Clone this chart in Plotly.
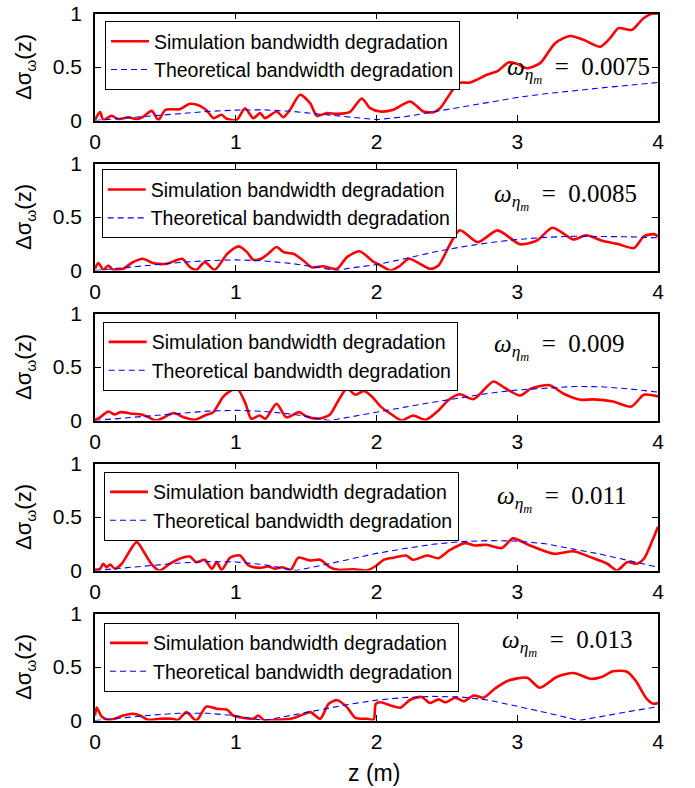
import plotly.graph_objects as go

# propagation distance z (m) sample points and bandwidth degradation for each omega_eta_m case
omega_labels = ["0.0075", "0.0085", "0.009", "0.011", "0.013"]

sim_z_1 = [0, 0.036, 0.059, 0.118, 0.166, 0.237, 0.296, 0.344, 0.403, 0.45, 0.50, 0.60, 0.675, 0.746,
           0.794, 0.841, 0.90, 0.936, 1.007, 1.066, 1.125, 1.173, 1.208, 1.291, 1.338, 1.386, 1.457,
           1.528, 1.576, 1.647, 1.718, 1.812, 1.895, 1.955, 2.026, 2.12, 2.239, 2.333, 2.405, 2.452,
           2.582, 2.665, 2.784, 2.866, 2.937, 2.997, 3.068, 3.163, 3.269, 3.376, 3.471, 3.589, 3.66,
           3.719, 3.814, 3.897, 3.957, 4.0]
sim_v_1 = [0.006, 0.078, 0.006, 0.044, 0.012, 0.031, 0.012, 0.037, 0.09, 0.006, 0.1, 0.106, 0.156, 0.137,
           0.093, 0.022, 0.053, 0.016, 0.006, 0.115, 0.022, 0.069, 0.022, 0.084, 0.031, 0.1, 0.24,
           0.162, 0.044, 0.069, 0.062, 0.081, 0.206, 0.115, 0.084, 0.1, 0.178, 0.084, 0.078, 0.115,
           0.349, 0.355, 0.427, 0.467, 0.542, 0.53, 0.489, 0.536, 0.723, 0.79, 0.754, 0.69, 0.77,
           0.863, 0.847, 0.956, 0.997, 1.0]

sim_z_2 = [0, 0.024, 0.059, 0.095, 0.13, 0.20, 0.27, 0.34, 0.41, 0.51, 0.62, 0.675, 0.72, 0.78, 0.85,
           0.94, 1.02, 1.08, 1.125, 1.18, 1.23, 1.29, 1.34, 1.41, 1.48, 1.54, 1.62, 1.72, 1.79, 1.88,
           1.98, 2.03, 2.10, 2.17, 2.23, 2.38, 2.44, 2.59, 2.72, 2.86, 3.02, 3.14, 3.25, 3.40, 3.49,
           3.61, 3.71, 3.83, 3.90, 3.97, 4.0]
sim_v_2 = [0.015, 0.07, 0.006, 0.047, 0.006, 0.016, 0.078, 0.11, 0.07, 0.063, 0.11, 0.03, 0.006, 0.078,
           0.006, 0.156, 0.225, 0.172, 0.1, 0.11, 0.156, 0.22, 0.172, 0.156, 0.094, 0.03, 0.04, 0.016,
           0.125, 0.18, 0.08, 0.047, 0.0, 0.047, 0.11, 0.016, 0.047, 0.375, 0.265, 0.375, 0.245, 0.28,
           0.4, 0.29, 0.33, 0.275, 0.25, 0.21, 0.32, 0.34, 0.32]

sim_z_3 = [0, 0.036, 0.095, 0.14, 0.18, 0.27, 0.33, 0.38, 0.43, 0.47, 0.56, 0.63, 0.71, 0.78, 0.84,
           0.91, 0.96, 1.01, 1.07, 1.11, 1.17, 1.21, 1.29, 1.36, 1.45, 1.50, 1.58, 1.62, 1.67, 1.73,
           1.79, 1.85, 1.91, 1.97, 2.03, 2.10, 2.18, 2.26, 2.35, 2.44, 2.51, 2.59, 2.69, 2.83, 2.91,
           3.02, 3.10, 3.23, 3.33, 3.45, 3.54, 3.68, 3.81, 3.90, 4.0]
sim_v_3 = [0.006, 0.03, 0.084, 0.056, 0.078, 0.063, 0.056, 0.03, 0.0, 0.016, 0.07, 0.03, 0.006, 0.047,
           0.078, 0.22, 0.275, 0.3, 0.156, 0.016, 0.047, 0.016, 0.156, 0.03, 0.078, 0.04, 0.016, 0.025,
           0.056, 0.19, 0.3, 0.24, 0.275, 0.22, 0.13, 0.063, 0.0, 0.047, 0.006, 0.094, 0.19, 0.245,
           0.2, 0.365, 0.306, 0.234, 0.3, 0.33, 0.25, 0.194, 0.197, 0.178, 0.13, 0.24, 0.225]

sim_z_4 = [0, 0.036, 0.059, 0.083, 0.107, 0.142, 0.19, 0.296, 0.355, 0.40, 0.46, 0.53, 0.62, 0.675,
           0.72, 0.78, 0.83, 0.865, 0.90, 0.96, 1.03, 1.09, 1.17, 1.23, 1.28, 1.33, 1.39, 1.445, 1.53,
           1.60, 1.67, 1.73, 1.84, 1.93, 2.0, 2.05, 2.12, 2.21, 2.26, 2.36, 2.44, 2.52, 2.63, 2.70,
           2.78, 2.89, 2.97, 3.09, 3.26, 3.40, 3.52, 3.64, 3.71, 3.78, 3.85, 3.90, 3.96, 4.0]
sim_v_4 = [0.006, 0.016, 0.063, 0.03, 0.056, 0.016, 0.063, 0.265, 0.156, 0.063, 0.0, 0.063, 0.12, 0.13,
           0.078, 0.1, 0.016, 0.078, 0.006, 0.12, 0.14, 0.047, 0.025, 0.037, 0.016, 0.03, 0.006, 0.12,
           0.094, 0.1, 0.03, 0.006, 0.012, 0.0, 0.047, 0.1, 0.12, 0.14, 0.1, 0.14, 0.115, 0.19, 0.256,
           0.234, 0.24, 0.21, 0.3, 0.234, 0.156, 0.18, 0.125, 0.063, 0.0, 0.078, 0.063, 0.11, 0.28, 0.41]

sim_z_5 = [0, 0.012, 0.047, 0.095, 0.14, 0.20, 0.27, 0.32, 0.38, 0.46, 0.545, 0.59, 0.65, 0.72, 0.79,
           0.865, 0.94, 0.98, 1.03, 1.125, 1.16, 1.20, 1.29, 1.39, 1.46, 1.53, 1.60, 1.66, 1.72, 1.79,
           1.85, 1.93, 1.98, 1.995, 2.03, 2.10, 2.17, 2.24, 2.32, 2.38, 2.44, 2.49, 2.56, 2.62, 2.69,
           2.76, 2.84, 2.93, 3.07, 3.16, 3.28, 3.40, 3.52, 3.60, 3.68, 3.78, 3.84, 3.92, 3.97, 4.0]
sim_v_5 = [0.047, 0.12, 0.037, 0.006, 0.016, 0.047, 0.063, 0.047, 0.006, 0.016, 0.016, 0.006, 0.078,
           0.0, 0.13, 0.11, 0.1, 0.047, 0.03, 0.016, 0.047, 0.006, 0.006, 0.016, 0.047, 0.078, 0.016,
           0.156, 0.19, 0.125, 0.025, 0.016, 0.01, 0.156, 0.17, 0.14, 0.12, 0.194, 0.22, 0.163, 0.197,
           0.17, 0.213, 0.18, 0.234, 0.213, 0.297, 0.37, 0.4, 0.306, 0.406, 0.444, 0.39, 0.406, 0.46,
           0.456, 0.375, 0.203, 0.156, 0.163]

theo_z_1 = [0, 0.2, 0.4, 0.6, 0.8, 1.0, 1.2, 1.4, 1.6, 1.8, 2.0, 2.2, 2.4, 2.6, 2.8, 3.0, 3.2, 3.4,
            3.6, 3.8, 4.0]
theo_v_1 = [0, 0.02, 0.043, 0.065, 0.085, 0.097, 0.1, 0.085, 0.06, 0.035, 0.008, 0.035, 0.08, 0.13,
            0.175, 0.215, 0.25, 0.28, 0.305, 0.33, 0.355]

theo_z_2 = [0, 0.2, 0.4, 0.6, 0.8, 1.0, 1.2, 1.4, 1.6, 1.72, 1.8, 2.0, 2.2, 2.4, 2.6, 2.8, 3.0, 3.2,
            3.4, 3.6, 3.8, 4.0]
theo_v_2 = [0, 0.025, 0.05, 0.075, 0.092, 0.1, 0.09, 0.065, 0.025, 0.0, 0.02, 0.055, 0.11, 0.17, 0.22,
            0.26, 0.29, 0.31, 0.32, 0.32, 0.315, 0.305]

theo_z_3 = [0, 0.2, 0.4, 0.6, 0.8, 1.0, 1.2, 1.4, 1.55, 1.67, 1.8, 2.0, 2.2, 2.4, 2.6, 2.8, 3.0, 3.2,
            3.4, 3.6, 3.8, 4.0]
theo_v_3 = [0, 0.022, 0.047, 0.07, 0.088, 0.095, 0.085, 0.06, 0.03, 0.0, 0.03, 0.08, 0.125, 0.17,
            0.215, 0.255, 0.285, 0.305, 0.318, 0.315, 0.295, 0.265]

theo_z_4 = [0, 0.2, 0.4, 0.6, 0.8, 1.0, 1.2, 1.43, 1.6, 1.8, 2.0, 2.2, 2.4, 2.6, 2.8, 3.0, 3.2, 3.4,
            3.6, 3.8, 4.0]
theo_v_4 = [0, 0.025, 0.05, 0.07, 0.083, 0.08, 0.055, 0.0, 0.045, 0.1, 0.16, 0.205, 0.245, 0.27, 0.28,
            0.275, 0.25, 0.2, 0.15, 0.09, 0.03]

theo_z_5 = [0, 0.2, 0.4, 0.6, 0.8, 1.0, 1.2, 1.4, 1.6, 1.8, 2.0, 2.2, 2.4, 2.6, 2.8, 3.0, 3.2, 3.44,
            3.6, 3.8, 4.0]
theo_v_5 = [0, 0.025, 0.05, 0.068, 0.068, 0.045, 0.0, 0.05, 0.1, 0.15, 0.19, 0.215, 0.225, 0.22, 0.19,
            0.135, 0.075, 0.0, 0.04, 0.085, 0.13]

x_ticks = [0, 1, 2, 3, 4]
y_ticks = [0, 0.5, 1]
y_tick_text = ["0", "0.5", "1"]

sim_series = [(sim_z_1, sim_v_1), (sim_z_2, sim_v_2), (sim_z_3, sim_v_3), (sim_z_4, sim_v_4),
              (sim_z_5, sim_v_5)]
theo_series = [(theo_z_1, theo_v_1), (theo_z_2, theo_v_2), (theo_z_3, theo_v_3),
               (theo_z_4, theo_v_4), (theo_z_5, theo_v_5)]

W, H = 695, 788
left_px, right_px = 95, 658
panel_top_px = [13.5, 163.5, 313.5, 463.5, 613.5]
panel_h_px = 107
legend_pos_px = [(105, 21), (101.7, 169.3), (102.7, 321.7), (104, 471.7), (104, 622.7)]
label_pos_px = [(505, 70), (491.7, 196.7), (491.7, 346.7), (495, 499.3), (500, 643.3)]

SANS = "Liberation Sans, Arial, sans-serif"
SERIF = "Liberation Serif, Times New Roman, serif"
SP = "\u2002"

fig = go.Figure()
annotations = []
layout_extra = {}

for i in range(5):
    n = i + 1
    xa = "x" if n == 1 else f"x{n}"
    ya = "y" if n == 1 else f"y{n}"
    leg = "legend" if n == 1 else f"legend{n}"
    sz, sv = sim_series[i]
    tz, tv = theo_series[i]
    fig.add_trace(go.Scatter(x=sz, y=sv, mode="lines", xaxis=xa, yaxis=ya, legend=leg,
                             name="Simulation bandwidth degradation",
                             line=dict(color="#ff0000", width=2.6, shape="spline", smoothing=0.7)))
    fig.add_trace(go.Scatter(x=tz, y=tv, mode="lines", xaxis=xa, yaxis=ya, legend=leg,
                             name="Theoretical bandwidth degradation",
                             line=dict(color="#0000ff", width=1.1, dash="6px,4px")))

    top = panel_top_px[i]
    bot = top + panel_h_px
    dom_y = [1 - bot / H, 1 - top / H]
    dom_x = [left_px / W, right_px / W]
    axis_common = dict(showline=True, linecolor="black", linewidth=1.5, mirror="ticks",
                       ticks="inside", ticklen=6, tickwidth=1, tickcolor="black",
                       showgrid=False, zeroline=False, fixedrange=True, automargin=False,
                       tickfont=dict(family=SANS, size=21, color="black"))
    xkey = "xaxis" if n == 1 else f"xaxis{n}"
    ykey = "yaxis" if n == 1 else f"yaxis{n}"
    layout_extra[xkey] = dict(domain=dom_x, range=[0, 4], anchor=ya, tickvals=x_ticks,
                              ticklabelstandoff=2, **axis_common)
    layout_extra[ykey] = dict(domain=dom_y, range=[0, 1], anchor=xa, tickvals=y_ticks,
                              ticktext=y_tick_text, ticklabelstandoff=7, **axis_common)

    lx, ly = legend_pos_px[i]
    layout_extra[leg] = dict(x=lx / W, y=1 - ly / H, xanchor="left", yanchor="top",
                             bgcolor="white", bordercolor="black", borderwidth=1,
                             font=dict(family=SANS, size=19.5, color="black"),
                             itemwidth=38, tracegroupgap=0)

    ax_, ay_ = label_pos_px[i]
    annotations.append(dict(
        text=f"<i>ω</i><sub><i>η</i><sub><i>m</i></sub></sub>{SP}={SP}{omega_labels[i]}",
        xref="paper", yref="paper", x=ax_ / W, y=1 - ay_ / H, xanchor="left", yanchor="middle",
        showarrow=False, font=dict(family=SERIF, size=25, color="black")))

    annotations.append(dict(
        text="Δσ<sub>ω</sub>(z)", xref="paper", yref="paper", x=25 / W,
        y=1 - (top + panel_h_px / 2) / H, xanchor="center", yanchor="middle", textangle=-90,
        showarrow=False, font=dict(family=SANS, size=22, color="black")))

annotations.append(dict(text="z (m)", xref="paper", yref="paper", x=374 / W, y=1 - 773 / H,
                        xanchor="center", yanchor="middle", showarrow=False,
                        font=dict(family=SANS, size=23, color="black")))

fig.update_layout(width=W, height=H, margin=dict(l=0, r=0, t=0, b=0, autoexpand=False),
                  paper_bgcolor="white", plot_bgcolor="white", showlegend=True,
                  annotations=annotations, **layout_extra)

fig.write_html("out.html")
